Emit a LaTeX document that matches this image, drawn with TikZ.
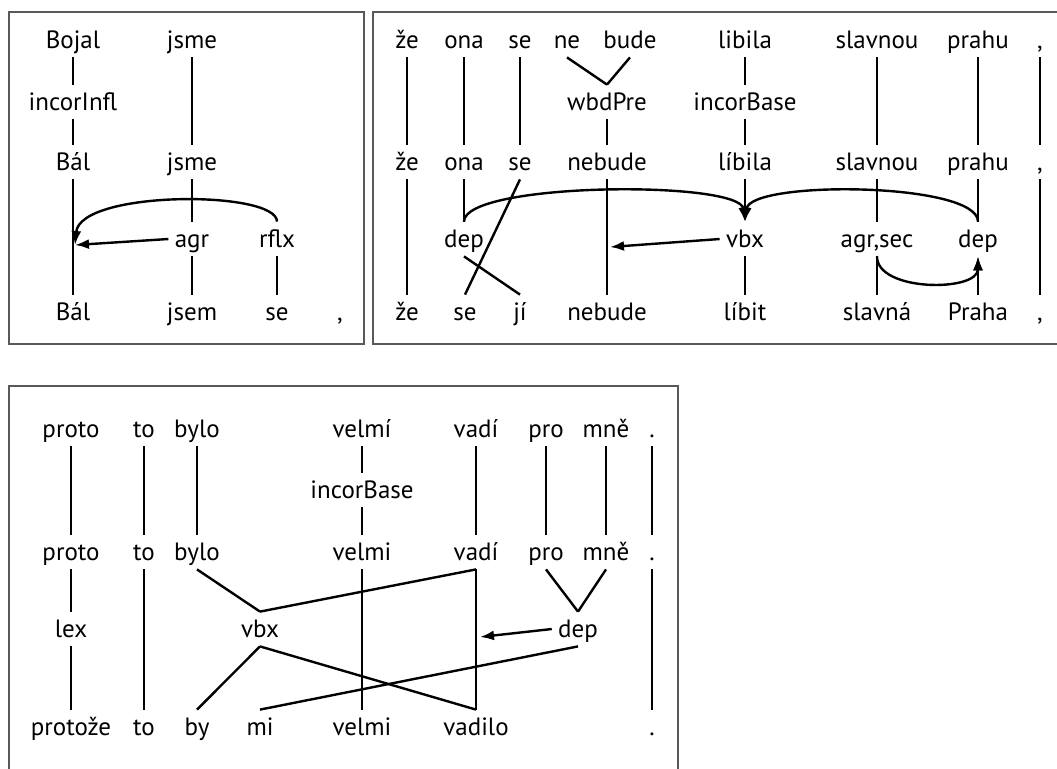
\documentclass[tikz,border=0pt]{standalone}
\usepackage{fontspec}
\setmainfont{PT Sans}
\usetikzlibrary{arrows.meta}

\tikzset{
  word/.style={anchor=base, text height=8.5pt, text depth=0.5pt, inner xsep=3pt, inner ysep=4pt},
  link/.style={line width=1.2pt},
  arr/.style={link, -{Latex[length=7pt,width=5pt]}},
  panel/.style={draw=black!65, line width=0.7pt}
}

\begin{document}
\begin{tikzpicture}[x=0.5pt, y=-0.5pt, font=\fontsize{12.5}{15}\selectfont]
        \useasboundingbox (0,0) rectangle (1057,768);
        \clip (0,0) rectangle (1057,768);

        % Frames of the three analyses
        \draw[panel] (9,12) rectangle (364,344);
        \draw[panel] (373,12) rectangle (1070,344);
        \draw[panel] (9,386) rectangle (678,800);

        % First analysis: Bojal jsme
        \node[word] (bojal) at (73,48) {Bojal};
        \node[word] (jsmeA) at (192,48) {jsme};
        \node[word] (incinfl) at (73,110) {incorInfl};
        \node[word] (balA) at (73,170) {Bál};
        \node[word] (jsmeB) at (192,170) {jsme};
        \node[word] (agr) at (192,247) {agr};
        \node[word] (rflx) at (277,247) {rflx};
        \node[word] (balB) at (73,320) {Bál};
        \node[word] (jsem) at (192,320) {jsem};
        \node[word] (seA) at (277,320) {se};
        \node[word] (commaA) at (340,320) {,};
        \coordinate (balhit) at (75,245);

        \foreach \a/\b in {bojal/incinfl, incinfl/balA, jsmeA/jsmeB, balA/balB,
                           jsmeB/agr, agr/jsem, rflx/seA}
            \draw[link] (\a.south) -- (\b.north);
        \draw[arr] (agr.west) -- (balhit);
        \draw[arr] (rflx.north) .. controls (277,190) and (80,190) .. (balhit);

        % Second analysis: ze ona se ne bude libila ...
        \node[word] (zeA) at (407,48) {že};
        \node[word] (onaA) at (464,48) {ona};
        \node[word] (seB) at (520,48) {se};
        \node[word] (ne) at (567,48) {ne};
        \node[word] (bude) at (630,48) {bude};
        \node[word] (libilaA) at (745,48) {libila};
        \node[word] (slavnouA) at (877,48) {slavnou};
        \node[word] (prahuA) at (978,48) {prahu};
        \node[word] (commaB) at (1040,48) {,};
        \node[word] (wbdpre) at (607,110) {wbdPre};
        \node[word] (incbaseA) at (745,110) {incorBase};
        \node[word] (zeB) at (407,170) {že};
        \node[word] (onaB) at (464,170) {ona};
        \node[word] (seC) at (520,170) {se};
        \node[word] (nebudeA) at (607,170) {nebude};
        \node[word] (libilaB) at (745,170) {líbila};
        \node[word] (slavnouB) at (877,170) {slavnou};
        \node[word] (prahuB) at (978,170) {prahu};
        \node[word] (commaC) at (1040,170) {,};
        \node[word] (depA) at (464,247) {dep};
        \node[word] (vbxA) at (745,247) {vbx};
        \node[word] (agrsec) at (877,247) {agr,sec};
        \node[word] (depB) at (978,247) {dep};
        \node[word] (zeC) at (407,320) {že};
        \node[word] (seD) at (465,320) {se};
        \node[word] (ji) at (520,320) {jí};
        \node[word] (nebudeB) at (607,320) {nebude};
        \node[word] (libit) at (745,320) {líbit};
        \node[word] (slavna) at (877,320) {slavná};
        \node[word] (praha) at (978,320) {Praha};
        \node[word] (commaD) at (1040,320) {,};
        \coordinate (nebhit) at (610,247);

        \foreach \a/\b in {zeA/zeB, zeB/zeC, onaA/onaB, onaB/depA, seB/seC, seC/seD,
                           depA/ji, ne/wbdpre, bude/wbdpre, wbdpre/nebudeA, nebudeA/nebudeB,
                           libilaA/incbaseA, incbaseA/libilaB, vbxA/libit,
                           slavnouA/slavnouB, slavnouB/agrsec, agrsec/slavna,
                           prahuA/prahuB, prahuB/depB, commaB/commaC, commaC/commaD}
            \draw[link] (\a.south) -- (\b.north);
        \draw[arr] (libilaB.south) -- (vbxA.north);
        \draw[arr] (praha.north) -- (depB.south);
        \draw[arr] (vbxA.west) -- (nebhit);
        \draw[arr] (depA.north) .. controls (464,182) and (740,180) .. (vbxA.north);
        \draw[arr] (depB.north) .. controls (978,182) and (750,180) .. (vbxA.north);
        \draw[arr] (agrsec.south) .. controls (877,292) and (978,292) .. (depB.south);

        % Third analysis: protoze to by mi velmi vadilo
        \node[word] (protoA) at (71,437) {proto};
        \node[word] (toA) at (144,437) {to};
        \node[word] (byloA) at (197,437) {bylo};
        \node[word] (velmiA) at (362,437) {velmí};
        \node[word] (vadiA) at (476,437) {vadí};
        \node[word] (proA) at (546,437) {pro};
        \node[word] (mneA) at (606,437) {mně};
        \node[word] (dotA) at (652,437) {.};
        \node[word] (incbaseB) at (362,498) {incorBase};
        \node[word] (protoB) at (71,560) {proto};
        \node[word] (toB) at (144,560) {to};
        \node[word] (byloB) at (197,560) {bylo};
        \node[word] (velmiB) at (362,560) {velmi};
        \node[word] (vadiB) at (476,560) {vadí};
        \node[word] (proB) at (546,560) {pro};
        \node[word] (mneB) at (606,560) {mně};
        \node[word] (dotB) at (652,560) {.};
        \node[word] (lex) at (71,637) {lex};
        \node[word] (vbxB) at (260,637) {vbx};
        \node[word] (depC) at (578,637) {dep};
        \node[word] (protoze) at (71,735) {protože};
        \node[word] (toC) at (144,735) {to};
        \node[word] (by) at (197,735) {by};
        \node[word] (mi) at (260,735) {mi};
        \node[word] (velmiC) at (362,735) {velmi};
        \node[word] (vadilo) at (476,735) {vadilo};
        \node[word] (dotC) at (652,735) {.};
        \coordinate (vadhit) at (480,637);

        \foreach \a/\b in {protoA/protoB, toA/toB, byloA/byloB, velmiA/incbaseB,
                           incbaseB/velmiB, vadiA/vadiB, proA/proB, mneA/mneB, dotA/dotB,
                           protoB/lex, lex/protoze, toB/toC, byloB/vbxB, velmiB/velmiC,
                           vadiB/vadilo, proB/depC, mneB/depC, dotB/dotC,
                           vbxB/by, vbxB/vadilo, depC/mi}
            \draw[link] (\a.south) -- (\b.north);
        \draw[link] (vbxB.north) -- (vadiB.south);
        \draw[arr] (depC.west) -- (vadhit);
\end{tikzpicture}
\end{document}
